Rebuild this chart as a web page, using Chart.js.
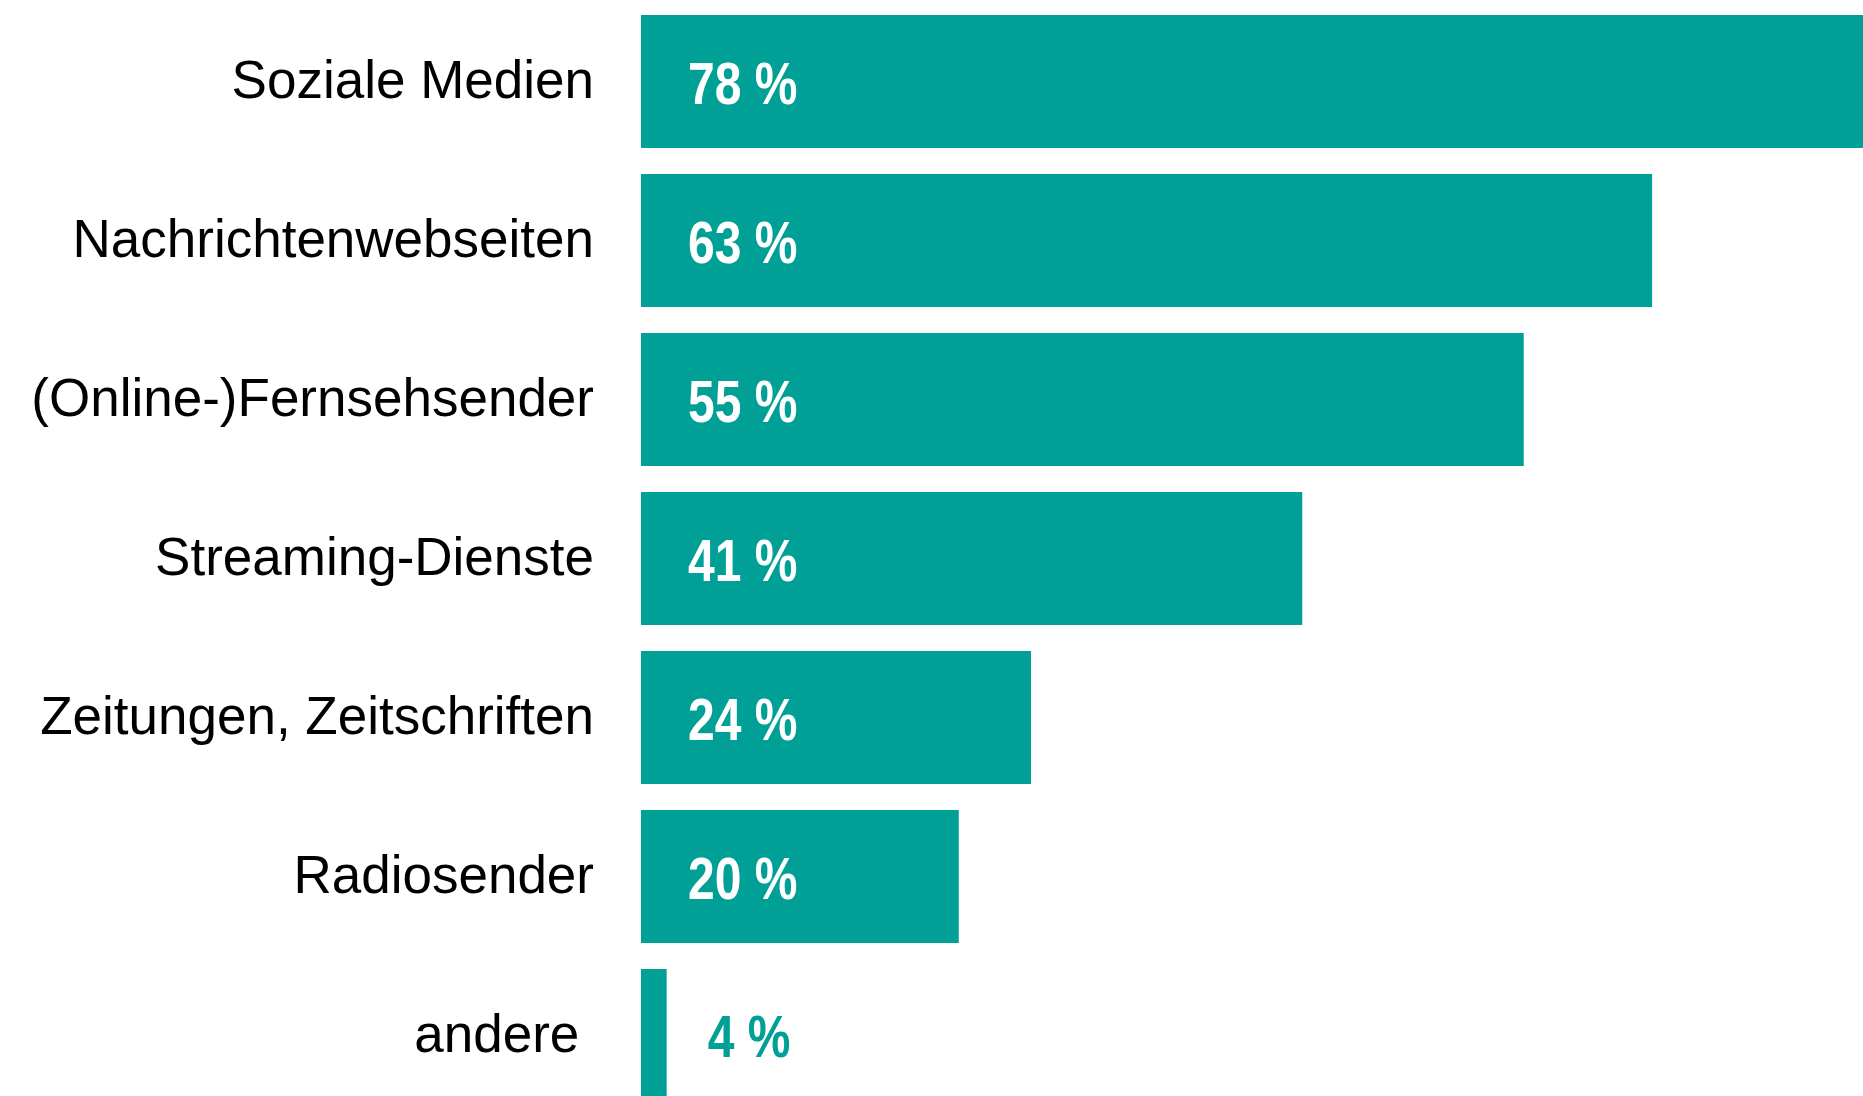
<!DOCTYPE html>
<html>
<head>
<meta charset="utf-8">
<script src="https://cdn.jsdelivr.net/npm/chart.js@4.4.1/dist/chart.umd.min.js"></script>
<style>
  html, body { margin: 0; padding: 0; background: #ffffff; overflow: hidden; }
  #wrap { width: 1863px; height: 1096px; overflow: hidden; position: relative; }
  canvas { display: block; }
</style>
</head>
<body>
<div id="wrap"><canvas id="c" width="1863" height="1117"></canvas></div>
<script>
// Categories (top to bottom)
const categories = [
  'Soziale Medien',
  'Nachrichtenwebseiten',
  '(Online-)Fernsehsender',
  'Streaming-Dienste',
  'Zeitungen, Zeitschriften',
  'Radiosender',
  'andere'
];
// Printed percentages (data labels)
const shares = [78, 63, 55, 41, 24, 20, 4];
// Bar lengths as drawn in the picture (the "andere" bar is drawn shorter than its label)
const barValues = [78, 63, 55, 41.2, 24.3, 19.8, 1.6];
const labelSuffix = ' %';

const TEAL = '#00A096';

const valueLabels = {
  id: 'valueLabels',
  afterDatasetsDraw(chart) {
    const ctx = chart.ctx;
    const meta = chart.getDatasetMeta(0);
    meta.data.forEach((bar, i) => {
      const txt = shares[i] + labelSuffix;
      const inside = (bar.x - bar.base) > 150;
      ctx.save();
      ctx.font = 'bold 60px "Liberation Sans", Arial, sans-serif';
      ctx.textAlign = 'left';
      ctx.textBaseline = 'alphabetic';
      let x, y;
      if (inside) {
        ctx.fillStyle = '#ffffff';
        x = bar.base + 47; y = bar.y + 22;
      } else {
        ctx.fillStyle = TEAL;
        x = bar.x + 41; y = bar.y + 21;
      }
      ctx.translate(x, y);
      ctx.scale(0.8, 1);
      ctx.fillText(txt, 0, 0);
      ctx.restore();
    });
  }
};

new Chart(document.getElementById('c'), {
  type: 'bar',
  data: {
    labels: categories,
    datasets: [{
      data: barValues,
      backgroundColor: TEAL,
      borderWidth: 0,
      categoryPercentage: 1,
      barPercentage: 133 / 159
    }]
  },
  options: {
    indexAxis: 'y',
    responsive: false,
    devicePixelRatio: 1,
    animation: false,
    layout: { padding: { top: 2, bottom: 2, left: 0, right: 0 } },
    plugins: {
      legend: { display: false },
      tooltip: { enabled: false }
    },
    scales: {
      x: {
        display: false,
        min: 0,
        max: 76.14
      },
      y: {
        grid: { display: false, drawTicks: false },
        border: { display: false },
        afterFit(scale) {
          scale.width = 641;
          scale.paddingTop = 0;
          scale.paddingBottom = 0;
        },
        ticks: {
          padding: 47,
          labelOffset: 2,
          color: '#000000',
          font: { family: '"Liberation Sans", Arial, sans-serif', size: 53 },
          callback: (v, i) => i === categories.length - 1 ? categories[i] + '\u00a0' : categories[i]
        }
      }
    }
  },
  plugins: [valueLabels]
});
</script>
</body>
</html>
